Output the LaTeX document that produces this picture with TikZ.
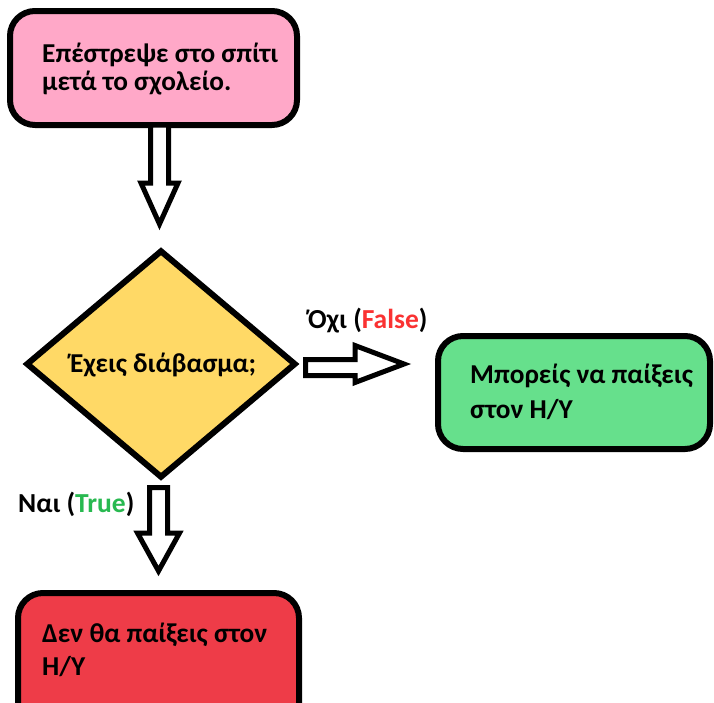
\documentclass[tikz,border=0pt]{standalone}
\usepackage{fontspec}
\setmainfont{Carlito}
\usetikzlibrary{shapes.geometric}
\definecolor{pinkfill}{RGB}{255,168,200}
\definecolor{yellowfill}{RGB}{255,217,102}
\definecolor{greenfill}{RGB}{102,224,140}
\definecolor{redfill}{RGB}{238,60,72}
\definecolor{falsered}{RGB}{250,50,50}
\definecolor{truegreen}{RGB}{40,185,80}
\tikzset{
  box/.style={draw=black, line width=6pt, rounded corners=25pt, inner sep=0pt},
  decisionbox/.style={draw=black, line width=6pt, diamond, inner sep=0pt, fill=yellowfill},
  txt/.style={anchor=base west, inner sep=0pt, font=\fontsize{27.3}{32}\selectfont\bfseries},
  lbl/.style={anchor=base west, inner sep=0pt, font=\fontsize{27.5}{32}\selectfont\bfseries},
  blockarrow/.style={draw=black, line width=5pt, fill=white, line join=miter},
}
\begin{document}
\begin{tikzpicture}[x=1pt,y=-1pt]
\useasboundingbox (0,0) rectangle (714,702);
\clip (0,0) rectangle (714,702);
\fill[white] (0,0) rectangle (714,702);

% boxes
\node[box, fill=pinkfill, minimum width=287pt, minimum height=114pt] (start) at (153.5,68) {};
\node[decisionbox, minimum width=270pt, minimum height=228pt] (decision) at (161,364) {};
\node[box, fill=greenfill, minimum width=272pt, minimum height=113pt] (yes) at (574,392.5) {};
\node[box, fill=redfill, minimum width=281pt, minimum height=152pt] (no) at (158.5,669) {};

% texts
\node[txt] (start1) at (42,62) {Επέστρεψε στο σπίτι};
\node[txt] (start2) at (42,90) {μετά το σχολείο.};
\node[txt] (dtext) at (70,372) {Έχεις διάβασμα;};
\node[txt] (yes1) at (470,383) {Μπορείς να παίξεις};
\node[txt] (yes2) at (470,418) {στον H/Y};
\node[txt] (no1) at (42,642) {Δεν θα παίξεις στον};
\node[txt] (no2) at (42,675) {H/Y};

% labels
\node[lbl] (falselbl) at (308,328) {Όχι (\textcolor{falsered}{False})};
\node[lbl] (truelbl) at (18,512) {Ναι (\textcolor{truegreen}{True})};

% block arrows
\draw[blockarrow] (150.5,125) -- (150.5,183) -- (141,183) -- (159.5,224) -- (178,183) -- (168.5,183) -- (168.5,125) -- cycle;
\draw[blockarrow] (305.5,359.5) -- (355,359.5) -- (355,345.5) -- (404,364) -- (355,382.5) -- (355,375.5) -- (305.5,375.5) -- cycle;
\draw[blockarrow] (149.5,487.5) -- (149.5,533) -- (137.5,533) -- (158.5,571) -- (179.5,533) -- (167.5,533) -- (167.5,487.5) -- cycle;
\end{tikzpicture}
\end{document}
